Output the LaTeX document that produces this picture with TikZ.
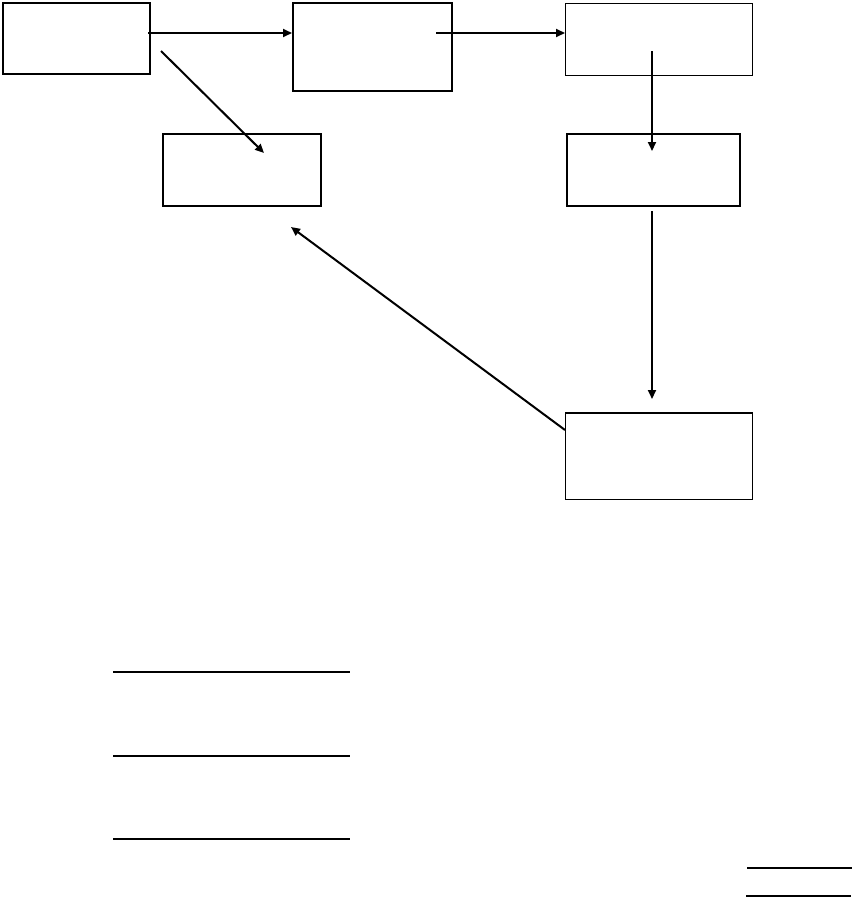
\documentclass[tikz,border=0pt]{standalone}
\usetikzlibrary{arrows.meta}
\begin{document}
\begin{tikzpicture}[x=1pt,y=-1pt,
  boxthick/.style={draw,line width=2.4pt,inner sep=0pt,anchor=north west},
  boxmid/.style={draw,line width=2pt,inner sep=0pt,anchor=north west},
  boxthin/.style={draw,line width=1.2pt,inner sep=0pt,anchor=north west},
  conn/.style={line width=2pt,-{Triangle[length=9pt,width=8pt]}},
  rule/.style={line width=1.5pt}]
\useasboundingbox (0,0) rectangle (852,897);
% boxes
\node[boxthick,minimum width=147pt,minimum height=71pt] (A) at (1.5,1.5) {};
\node[boxmid,minimum width=159pt,minimum height=88pt] (B) at (292,1.5) {};
\node[boxthin,minimum width=187pt,minimum height=72pt] (C) at (565,2.5) {};
\node[boxmid,minimum width=173pt,minimum height=72pt] (D) at (565.5,133) {};
\node[boxmid,minimum width=158pt,minimum height=72pt] (E) at (162,133) {};
\node[boxthin,minimum width=187pt,minimum height=86pt] (F) at (565,413) {};
\draw[line width=2pt] (F.north west) -- (F.north east);
% connector end points
\coordinate (a1) at (148,33);
\coordinate (b1) at (436,33);
\coordinate (a2) at (161,51);
\coordinate (e1) at (264,153);
\coordinate (c1) at (652,51);
\coordinate (d1) at (652,151);
\coordinate (d2) at (652,211);
\coordinate (f1) at (652,399);
\coordinate (f2) at (565,430);
\coordinate (e2) at (291,227);
% connectors
\draw[conn] (a1) -- (B.west |- a1);
\draw[conn] (b1) -- (C.west |- b1);
\draw[conn] (a2) -- (e1);
\draw[conn] (c1) -- (d1);
\draw[conn] (d2) -- (f1);
\draw[conn] (f2) -- (e2);
% rules
\coordinate (r1a) at (113,672); \coordinate (r1b) at (350,672);
\coordinate (r2a) at (113,756); \coordinate (r2b) at (350,756);
\coordinate (r3a) at (113,839); \coordinate (r3b) at (350,839);
\coordinate (r4a) at (747,868); \coordinate (r4b) at (852,868);
\coordinate (r5a) at (746,896); \coordinate (r5b) at (851,896);
\draw[rule] (r1a) -- (r1b);
\draw[rule] (r2a) -- (r2b);
\draw[rule] (r3a) -- (r3b);
\draw[rule] (r4a) -- (r4b);
\draw[rule] (r5a) -- (r5b);
\end{tikzpicture}
\end{document}
